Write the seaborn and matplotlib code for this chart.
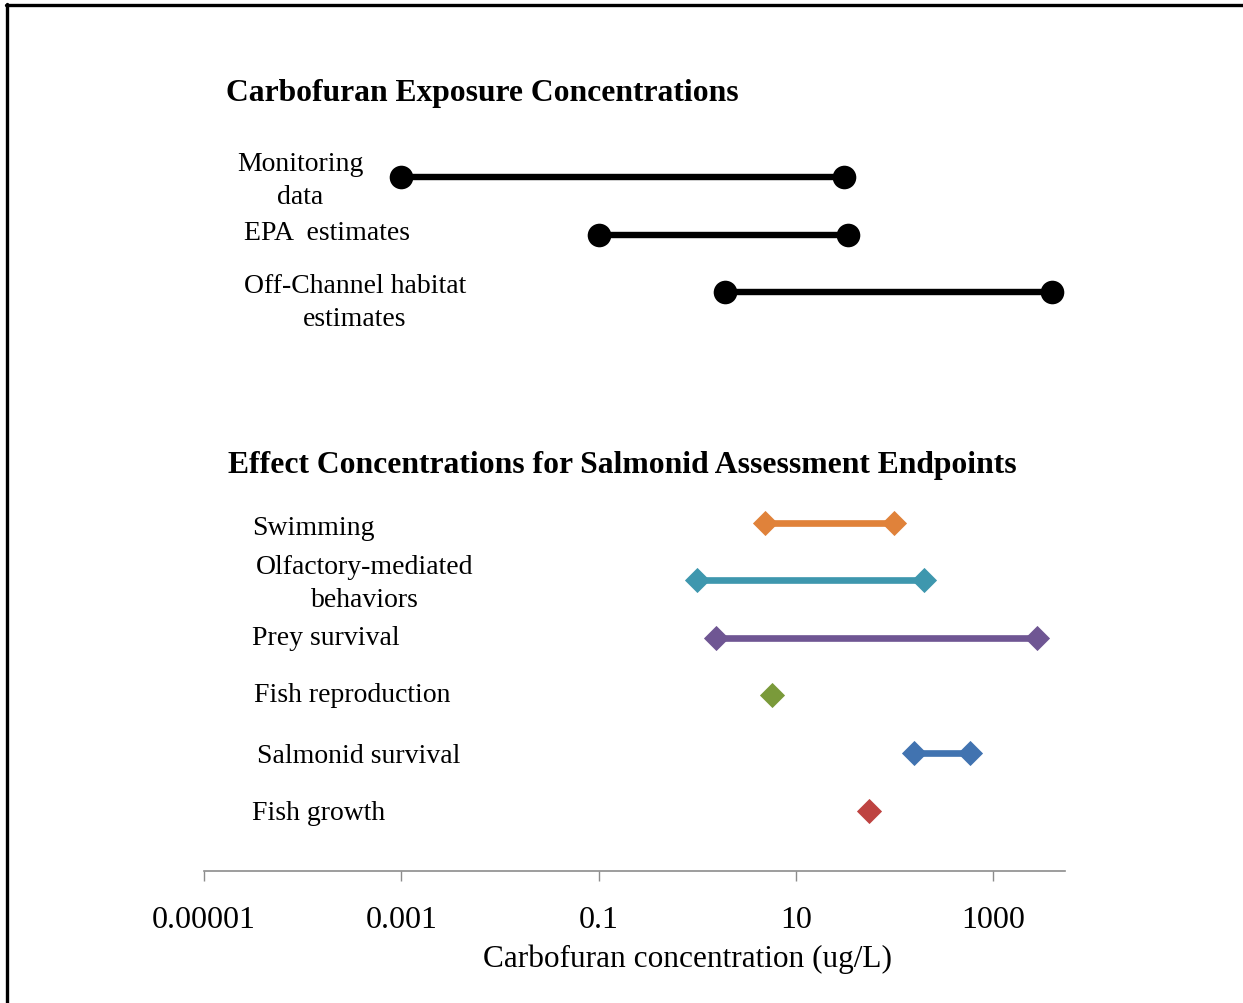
import matplotlib
matplotlib.use("Agg")
import matplotlib.pyplot as plt
import matplotlib.transforms as mtransforms
from matplotlib.lines import Line2D
import seaborn as sns
import pandas as pd

# ---------------- data ----------------
exposure_names = ["Monitoring data", "EPA estimates", "Off-Channel habitat estimates"]
exposure_low = [0.001, 0.1, 1.9]
exposure_high = [31, 34, 4000]

effect_names = ["Swimming", "Olfactory-mediated behaviors", "Prey survival",
                "Fish reproduction", "Salmonid survival", "Fish growth"]
effect_low = [4.9, 1.0, 1.55, 5.8, 158, 55]
effect_high = [100, 200, 2800, None, 590, None]
effect_colors = ["#E0823A", "#3E97AE", "#6F5693", "#7A9A3A", "#4173B0", "#BE4341"]

tick_values = [1e-5, 1e-3, 1e-1, 10, 1000]
tick_labels = ["0.00001", "0.001", "0.1", "10", "1000"]

title_exposure = "Carbofuran Exposure Concentrations"
title_effect = "Effect Concentrations for Salmonid Assessment Endpoints"
x_title = "Carbofuran concentration (ug/L)"

# ---------------- layout (positions) ----------------
exposure_rows = [0, 1, 2]
effect_rows = [6, 7, 8, 9, 10, 11]

exp_label_text = ["Monitoring\ndata", "EPA  estimates", "Off-Channel habitat\nestimates"]
exp_label_x = [0.1115, 0.1434, 0.1754]
exp_label_y = [0.05, 0.97, 2.17]

eff_label_text = ["Swimming", "Olfactory-mediated\nbehaviors", "Prey survival",
                  "Fish reproduction", "Salmonid survival", "Fish growth"]
eff_label_x = [0.0557, 0.187, 0.0557, 0.0581, 0.0616, 0.0557]
eff_label_y = [6.09, 7.05, 7.99, 8.99, 10.04, 11.04]
eff_label_ha = ["left", "center", "left", "left", "left", "left"]

# ---------------- build tables ----------------
rows = []
for name, lo, hi, r in zip(exposure_names, exposure_low, exposure_high, exposure_rows):
    for v in (lo, hi):
        if v is not None:
            rows.append({"name": name, "value": v, "row": r})
df_exp = pd.DataFrame(rows)

rows = []
for name, lo, hi, r in zip(effect_names, effect_low, effect_high, effect_rows):
    for v in (lo, hi):
        if v is not None:
            rows.append({"name": name, "value": v, "row": r})
df_eff = pd.DataFrame(rows)

# ---------------- figure ----------------
sns.set_theme(style="white")
plt.rcParams["font.family"] = ["Liberation Serif", "DejaVu Serif"]
plt.rcParams["text.color"] = "black"

W, H = 1243, 1004
fig = plt.figure(figsize=(W / 100, H / 100), dpi=100)
ax = fig.add_axes([204 / W, 1 - 872 / H, (1065 - 204) / W, (872 - 34) / H])

sns.lineplot(data=df_exp, x="value", y="row", units="name", estimator=None,
             sort=False, color="black", marker="o", markersize=17,
             linewidth=4.6, markeredgewidth=0, ax=ax, legend=False)
sns.lineplot(data=df_eff, x="value", y="row", hue="name", units="name",
             estimator=None, sort=False, palette=effect_colors,
             hue_order=effect_names, marker="D", markersize=12,
             linewidth=4.8, markeredgewidth=0.6, ax=ax, legend=False)
for ln in ax.lines:
    ln.set_markeredgecolor(ln.get_color())
    ln.set_solid_capstyle("butt")

ax.set_xscale("log")
ax.set_xlim(1e-5, 10 ** 3.73)
ax.set_ylim(12.05, -2.5)

ax.set_xticks(tick_values)
ax.set_xticklabels(tick_labels)
ax.xaxis.set_minor_locator(matplotlib.ticker.NullLocator())
ax.set_yticks([])
ax.set_ylabel("")
ax.tick_params(axis="x", direction="out", length=7.5, width=1, color="#8c8c8c",
               pad=17, labelsize=23, labelcolor="black", bottom=True)
for s in ["top", "right", "left"]:
    ax.spines[s].set_visible(False)
ax.spines["bottom"].set_color("#8c8c8c")
ax.spines["bottom"].set_linewidth(1.2)
ax.patch.set_alpha(0)

ax.set_xlabel(x_title, fontsize=22.5, color="black")
ax.xaxis.label.set_va("center")
ax.xaxis.set_label_coords(0.562, -0.104)

trans = mtransforms.blended_transform_factory(ax.transAxes, ax.transData)
ax.text(0.0256, -1.47, title_exposure, transform=trans, fontsize=22.8,
        fontweight="bold", ha="left", va="center", color="black")
ax.text(0.0279, 4.99, title_effect, transform=trans, fontsize=22.8,
        fontweight="bold", ha="left", va="center", color="black")

for t, x, y in zip(exp_label_text, exp_label_x, exp_label_y):
    ax.text(x, y, t, transform=trans, fontsize=20, ha="center", va="center",
            multialignment="center", linespacing=1.4, color="black")
for t, x, y, ha in zip(eff_label_text, eff_label_x, eff_label_y, eff_label_ha):
    ax.text(x, y, t, transform=trans, fontsize=20, ha=ha, va="center",
            multialignment="center", linespacing=1.4, color="black")

# page frame (top and left edges)
fig.add_artist(Line2D([6 / W, 1.0], [1 - 5.5 / H, 1 - 5.5 / H],
                      transform=fig.transFigure, color="black", linewidth=2.4))
fig.add_artist(Line2D([7 / W, 7 / W], [0.0, 1 - 5 / H],
                      transform=fig.transFigure, color="black", linewidth=2.4))

fig.savefig("out.png", dpi=100, facecolor="white")
